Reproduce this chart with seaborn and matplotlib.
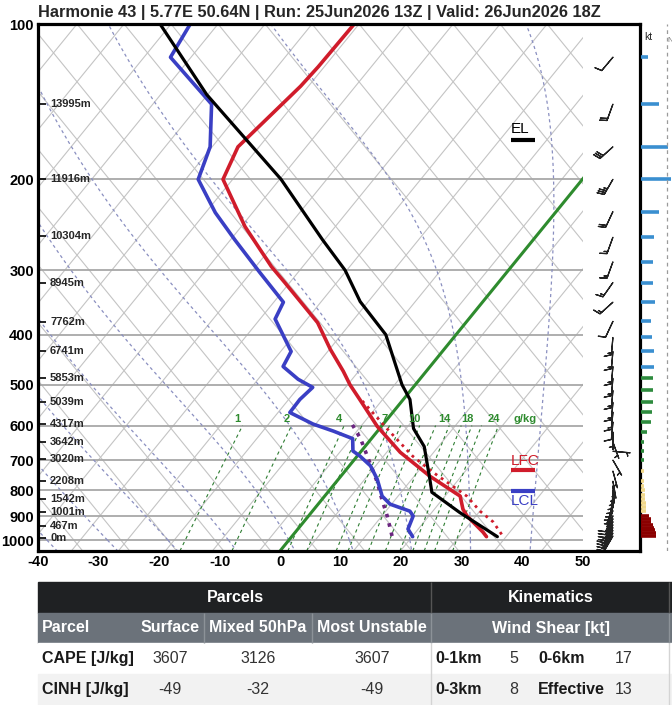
import numpy as np
import matplotlib
matplotlib.use("Agg")
import matplotlib.pyplot as plt
from matplotlib.patches import Rectangle
import seaborn as sns

TITLE = "Harmonie 43 | 5.77E 50.64N | Run: 25Jun2026 13Z | Valid: 26Jun2026 18Z"

# --- sounding (hPa / degC) ---
t_pres = [985, 965, 898, 871, 822, 752, 676, 602, 534, 500, 471, 427, 379, 317, 295, 247, 200, 173, 132, 121, 100]
t_temp = [32.2, 31.0, 26.2, 24.6, 22.4, 14.7, 6.6, -0.7, -7.2, -10.8, -13.7, -18.8, -24.5, -35.3, -39.7, -49.4,
          -59.4, -61.3, -59.1, -58.8, -58.6]

td_pres = [985, 952, 898, 879, 852, 822, 762, 718, 688, 672, 636, 615, 596, 566, 534, 506, 488, 461, 431, 373,
           346, 303, 262, 232, 200, 173, 143, 116, 100]
td_temp = [20.0, 18.2, 17.3, 16.1, 11.9, 9.5, 6.4, 3.5, 0.5, -1.4, -3.1, -7.3, -11.6, -17.0, -17.1, -16.6, -20.1,
           -24.3, -25.0, -32.0, -32.9, -40.8, -49.3, -56.2, -63.5, -65.9, -71.4, -84.5, -85.7]

parcel_pres = [985, 884, 808, 762, 659, 608, 534, 500, 400, 345, 300, 262, 200, 137, 100]
parcel_temp = [34.0, 24.5, 17.2, 15.1, 9.8, 5.6, 1.1, -2.2, -11.6, -20.3, -27.0, -34.8, -49.8, -73.5, -90.7]

tv_pres = [975, 922, 879, 822, 739, 688, 609, 534]
tv_temp = [34.4, 31.3, 27.7, 23.5, 14.7, 9.2, 1.3, -7.0]

wb_pres = [982, 898, 834, 772, 707, 636, 590]
wb_temp = [16.5, 13.0, 9.9, 6.8, 2.9, -1.8, -5.7]

# winds
wind_pres = [116, 143, 173, 200, 231, 259, 289, 317, 346, 377, 405, 431, 461, 486, 513, 541, 565, 591, 618,
             646, 673, 700, 735, 769, 785, 801, 817, 833, 848, 863, 877, 898, 910, 922, 934, 946, 958, 970, 982]
wind_spd = [8, 21, 31, 35, 21, 15, 14, 14, 16, 12, 13, 15, 15, 14, 14, 14, 13, 12, 7,
            3, 3, 3, 3, 4, 4, 5, 5, 5, 6, 6, 6, 9, 11, 12, 14, 15, 16, 17, 17]
wind_dir = [220, 200, 228, 210, 205, 200, 200, 215, 228, 205, 185, 185, 185, 185, 185, 185, 185, 185, 180,
            160, 95, 150, 165, 170, 175, 180, 185, 190, 195, 200, 200, 205, 205, 205, 205, 210, 210, 210, 210]

height_pres = [992, 940, 884, 833, 769, 697, 646, 595, 541, 486, 431, 378, 317, 258, 200, 143]
height_lbl = ["0m", "467m", "1001m", "1542m", "2208m", "3020m", "3642m", "4317m", "5039m", "5853m",
              "6741m", "7762m", "8945m", "10304m", "11916m", "13995m"]

mix_ratios = [1, 2, 4, 5, 7, 8, 10, 12, 14, 16, 18, 20, 24]
mix_labeled = [1, 2, 4, 7, 10, 14, 18, 24]
moist_t0 = [-40, -30, -20, -10, 0, 10, 20, 30, 40]

el_p, lfc_p, lcl_p = 168, 733, 804

parcel_cols = ["Surface", "Mixed 50hPa", "Most Unstable"]
cape = [3607, 3126, 3607]
cinh = [-49, -32, -49]
shear = [("0-1km", 5, "0-6km", 17), ("0-3km", 8, "Effective", 13)]

SKEW = 69.4
P_BOT = 1050.0


def skx(t, p):
    return np.asarray(t, float) + SKEW * np.log10(P_BOT / np.asarray(p, float))


def dtdp(p, tk):
    tc = tk - 273.15
    es = 6.112 * np.exp(17.67 * tc / (tc + 243.5))
    rs = 0.622 * es / (p - es)
    return (287.04 * tk + 2.501e6 * rs) / (p * (1005.7 + 2.501e6 ** 2 * rs * 0.622 / (287.04 * tk ** 2)))


def moist_adiabat(t0, pres):
    out = [t0 + 273.15]
    for p0, p1 in zip(pres[:-1], pres[1:]):
        h = p1 - p0
        tk = out[-1]
        k1 = dtdp(p0, tk)
        k2 = dtdp(p0 + h / 2, tk + h / 2 * k1)
        k3 = dtdp(p0 + h / 2, tk + h / 2 * k2)
        k4 = dtdp(p1, tk + h * k3)
        out.append(tk + h / 6 * (k1 + 2 * k2 + 2 * k3 + k4))
    return np.array(out) - 273.15


def dewpoint_from_w(w, p):
    e = w / 1000 * p / (0.622 + w / 1000)
    a = np.log(e / 6.112)
    return 243.5 * a / (17.67 - a)


sns.set_theme(style="white")
plt.rcParams['font.family'] = ['Liberation Sans', 'DejaVu Sans']

W, H = 672, 705
fig = plt.figure(figsize=(W / 100, H / 100), dpi=100)
ax = fig.add_axes([38 / W, 1 - 551 / H, 602 / W, 527 / H])
ax.set_yscale('log')
ax.set_xlim(-40, 59.5)
ax.set_ylim(1050, 100)

clip = Rectangle((0, 0), (583 - 38) / 602, 1, transform=ax.transAxes, visible=False)
ax.add_patch(clip)

pp = np.geomspace(1050, 100, 60)
u = np.log10(P_BOT / pp)
ut = np.log10(P_BOT / 100)
for n in range(-12, 30):
    xt = -33.55 + 7.77 * n
    for line in (ax.plot(xt - SKEW * ut + SKEW * u, pp, color='#c4c4c4', lw=0.8)[0],
                 ax.plot(xt + SKEW * ut - SKEW * u, pp, color='#c4c4c4', lw=0.8)[0]):
        line.set_clip_path(clip)

ax.hlines(range(200, 1001, 100), -40, 50, color='#a8a8a8', lw=1.3)

p_up = np.linspace(1000, 100, 181)
p_dn = np.linspace(1000, 1050, 11)
for t0 in moist_t0:
    for pr in (p_up, p_dn):
        tm = moist_adiabat(t0, pr)
        ln, = ax.plot(skx(tm, pr), pr, color='#8a8fc0', lw=0.9, ls=(0, (2.5, 2.5)))
        ln.set_clip_path(clip)

pm = np.linspace(1050, 600, 40)
for w in mix_ratios:
    ln, = ax.plot(skx(dewpoint_from_w(w, pm), pm), pm, color='#2e7d32', lw=0.8, ls=(0, (3, 3)))
    ln.set_clip_path(clip)
    if w in mix_labeled:
        ax.text(skx(dewpoint_from_w(w, 600), 600) - 0.8, 583, str(w), color='#2e8b2e', fontsize=8,
                fontweight='bold', ha='center', va='center')
ax.text(40.5, 583, "g/kg", color='#2e8b2e', fontsize=8, fontweight='bold', ha='center', va='center')

iso0, = ax.plot(skx([0, 0], [1050, 100]), [1050, 100], color='#2e8b2e', lw=2.2)
iso0.set_clip_path(clip)

sns.lineplot(x=skx(wb_temp, wb_pres), y=wb_pres, sort=False, estimator=None, ax=ax,
             color='#6b2580', lw=2.6, linestyle=':')
sns.lineplot(x=skx(tv_temp, tv_pres), y=tv_pres, sort=False, estimator=None, ax=ax,
             color='#d01c2b', lw=2.0, linestyle=':')
sns.lineplot(x=skx(td_temp, td_pres), y=td_pres, sort=False, estimator=None, ax=ax,
             color='#3a3fc4', lw=2.6)
sns.lineplot(x=skx(t_temp, t_pres), y=t_pres, sort=False, estimator=None, ax=ax,
             color='#d01c2b', lw=2.6)
sns.lineplot(x=skx(parcel_temp, parcel_pres), y=parcel_pres, sort=False, estimator=None, ax=ax,
             color='black', lw=2.3)

yt = ax.get_yaxis_transform()
ax.hlines(height_pres, 0, 0.013, transform=yt, color='black', lw=1.2)
for p, s in zip(height_pres, height_lbl):
    ax.text(0.02, p, s, transform=yt, fontsize=8, fontweight='bold', va='center', ha='left')

ax.hlines([el_p], 0.786, 0.826, transform=yt, color='black', lw=3)
ax.text(0.786, el_p - 3, "EL", transform=yt, fontsize=11, color='black', va='bottom', ha='left')
ax.hlines([lfc_p], 0.786, 0.826, transform=yt, color='#d01c2b', lw=3)
ax.text(0.786, lfc_p - 8, "LFC", transform=yt, fontsize=11, color='#d01c2b', va='bottom', ha='left')
ax.hlines([lcl_p], 0.786, 0.826, transform=yt, color='#3a3fc4', lw=3)
ax.text(0.786, lcl_p + 12, "LCL", transform=yt, fontsize=11, color='#3a3fc4', va='top', ha='left')

rad = np.deg2rad(wind_dir)
wu = -np.array(wind_spd) * np.sin(rad)
wv = -np.array(wind_spd) * np.cos(rad)
ax.barbs(np.full(len(wind_pres), 0.955), wind_pres, wu, wv, transform=yt, length=5, lw=0.9,
         color='#222222', sizes=dict(emptybarb=0.0))

ax.set_xticks(range(-40, 51, 10))
ax.set_xticklabels([str(v) for v in range(-40, 51, 10)], fontweight='bold', fontsize=10.5)
ax.set_yticks(range(100, 1001, 100))
ax.set_yticklabels([str(v) for v in range(100, 1001, 100)], fontweight='bold', fontsize=10.5)
ax.minorticks_off()
ax.tick_params(axis='both', length=0, colors='black')
ax.tick_params(axis='y', pad=3)
ax.tick_params(axis='x', pad=3)
ax.set_xlabel('')
ax.set_ylabel('')
for s in ax.spines.values():
    s.set_color('black')
    s.set_linewidth(2.3)

# wind speed strip on the right
ax2 = fig.add_axes([641 / W, 1 - 551 / H, 70 / W, 527 / H])
ax2.set_yscale('log')
ax2.set_ylim(1050, 100)
ax2.set_xlim(0, 70 / 0.867)
bar_col = ['#8b0000' if p >= 895 else '#f0d78a' if p > 700 else '#2e8b3e' if p > 470 else '#3a8fd0'
           for p in wind_pres]
ax2.hlines(wind_pres, 0, wind_spd, colors=bar_col, lw=2.6)
ax2.axvline(30, color='#9a9a9a', ls=(0, (3, 3)), lw=0.9)
ax2.text(0.05, 0.985, "kt", transform=ax2.transAxes, fontsize=7.5, va='top', ha='left')
ax2.text(30 / 70 * 0.867 * 70 / 70 + 0.005, 0.975, "N", transform=ax2.transAxes, fontsize=5.5,
         va='top', ha='left', color='#777777')
ax2.axis('off')

fig.text(38 / W, 1 - 12 / H, TITLE, ha='left', va='center', fontsize=11.8, fontweight='bold')

# table
axt = fig.add_axes([0, 0, 1, 125 / H])
axt.set_xlim(0, W)
axt.set_ylim(H, H - 125)
axt.axis('off')
axt.add_patch(Rectangle((38, 582), W - 38, 31, color='#1f2123'))
axt.add_patch(Rectangle((38, 613), W - 38, 30, color='#6b727a'))
axt.add_patch(Rectangle((38, 643), W - 38, 31, color='white'))
axt.add_patch(Rectangle((38, 674), W - 38, 31, color='#f2f2f2'))
axt.vlines([431, 669], 582, 613, color='#555555', lw=1)
axt.vlines([204, 312, 431, 669], 613, 643, color='#8c9298', lw=1)
axt.vlines([431, 669], 643, 705, color='#d4d4d4', lw=1)

hdr = dict(color='white', fontweight='bold', fontsize=11.5, va='center')
axt.text(235, 597.5, "Parcels", ha='center', **hdr)
axt.text(551, 597.5, "Kinematics", ha='center', **hdr)
axt.text(42, 628, "Parcel", ha='left', **hdr)
for cx, s in zip([170, 258, 372], parcel_cols):
    axt.text(cx, 628, s, ha='center', **hdr)
axt.text(551, 628, "Wind Shear [kt]", ha='center', **hdr)

val = dict(color='#333333', fontsize=11.5, va='center')
bold = dict(color='#1a1a1a', fontsize=11.5, va='center', fontweight='bold')
for ry, name, vals, sh in [(658.5, "CAPE [J/kg]", cape, shear[0]), (689.5, "CINH [J/kg]", cinh, shear[1])]:
    axt.text(42, ry, name, ha='left', **bold)
    for cx, v in zip([170, 258, 372], vals):
        axt.text(cx, ry, str(v), ha='center', **val)
    axt.text(435, ry, sh[0], ha='left', **bold)
    axt.text(514, ry, str(sh[1]), ha='center', **val)
    axt.text(538, ry, sh[2], ha='left', **bold)
    axt.text(624, ry, str(sh[3]), ha='center', **val)

fig.savefig("out.png", dpi=100)
